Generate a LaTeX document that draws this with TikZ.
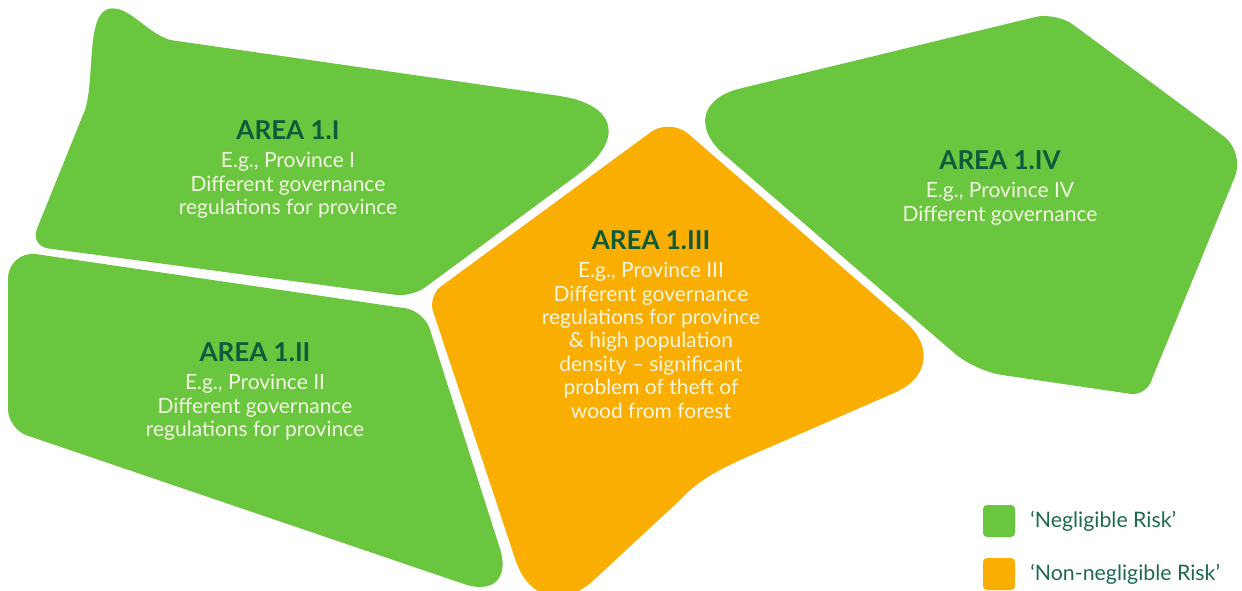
\documentclass[tikz,border=0pt]{standalone}
\usepackage{fontspec}
\setmainfont{Lato}
\definecolor{riskgreen}{HTML}{6AC63E}
\definecolor{riskorange}{HTML}{FBAE02}
\definecolor{titlegreen}{HTML}{0E5B3C}
\definecolor{bodycream}{HTML}{F3F6E2}
\definecolor{legendtext}{HTML}{1E6A4B}
\begin{document}
\begin{tikzpicture}[x=0.75pt,y=-0.75pt,
  areatitle/.style={font=\fontsize{19.5}{22}\selectfont\bfseries, text=titlegreen, anchor=base, inner sep=0},
  areabody/.style={font=\fontsize{15.75}{17.6}\selectfont, text=bodycream, align=center, anchor=north, inner sep=0},
  greenarea/.style={fill=riskgreen},
  orangearea/.style={fill=riskorange},
  legendbox/.style={rounded corners=3pt, minimum size=24pt, inner sep=0},
  legendlabel/.style={font=\fontsize{16}{19}\selectfont, text=legendtext, anchor=west, inner sep=0}]
\fill[white] (0,0) rectangle (1242,591);
\useasboundingbox (0,0) rectangle (1242,591);

% Area 1.I  (a corner's rounding is the one given just before the segment that reaches it)
\fill[greenarea] (400,73) [rounded corners=80pt] -- (664,111) [rounded corners=12pt] -- (412,297) [rounded corners=14pt] -- (30,246) [sharp corners] -- (85,110)
  .. controls (95,78) and (86,16) .. (108,9) .. controls (128,4) and (145,32) .. (170,40) -- cycle;
% Area 1.II
\fill[greenarea] (8,250) [rounded corners=14pt] -- (424,311) [rounded corners=42pt] -- (517,602) [rounded corners=15pt] -- (8,429) [rounded corners=22pt] -- cycle;
% Area 1.III
\fill[orangearea] (428,296) [rounded corners=18pt] -- (670,118) [rounded corners=50pt] -- (956,366) [sharp corners] -- (770,447)
  .. controls (725,466) and (700,478) .. (680,500) -- (610,565) [rounded corners=56pt] -- (539,631) [rounded corners=12pt] -- cycle;
% Area 1.IV
\fill[greenarea] (668,106) [rounded corners=16pt] -- (1056,12) [rounded corners=20pt] -- (1245,152) [rounded corners=11pt] -- (1145,396) [rounded corners=20pt] -- (975,371) [rounded corners=56pt] -- cycle;

% Texts
\node[areatitle] (t1) at (288,140) {AREA 1.I};
\node[areabody] (b1) at (288,152) {E.g., Province I\\Different governance\\regulations for province};
\node[areatitle] (t2) at (255,362) {AREA 1.II};
\node[areabody] (b2) at (255,374) {E.g., Province II\\Different governance\\regulations for province};
\node[areatitle] (t3) at (651,250) {AREA 1.III};
\node[areabody] (b3) at (651,262) {E.g., Province III\\Different governance\\regulations for province\\\& high population\\density – significant\\problem of theft of\\wood from forest};
\node[areatitle] (t4) at (1000,170) {AREA 1.IV};
\node[areabody] (b4) at (1000,182) {E.g., Province IV\\Different governance};

% Legend
\node[legendbox, fill=riskgreen] (lgg) at (999,521) {};
\node[legendbox, fill=riskorange] (lgo) at (999,574) {};
\node[legendlabel] (lgtg) at (1030,521) {‘Negligible Risk’};
\node[legendlabel] (lgto) at (1030,574) {‘Non-negligible Risk’};
\end{tikzpicture}
\end{document}
